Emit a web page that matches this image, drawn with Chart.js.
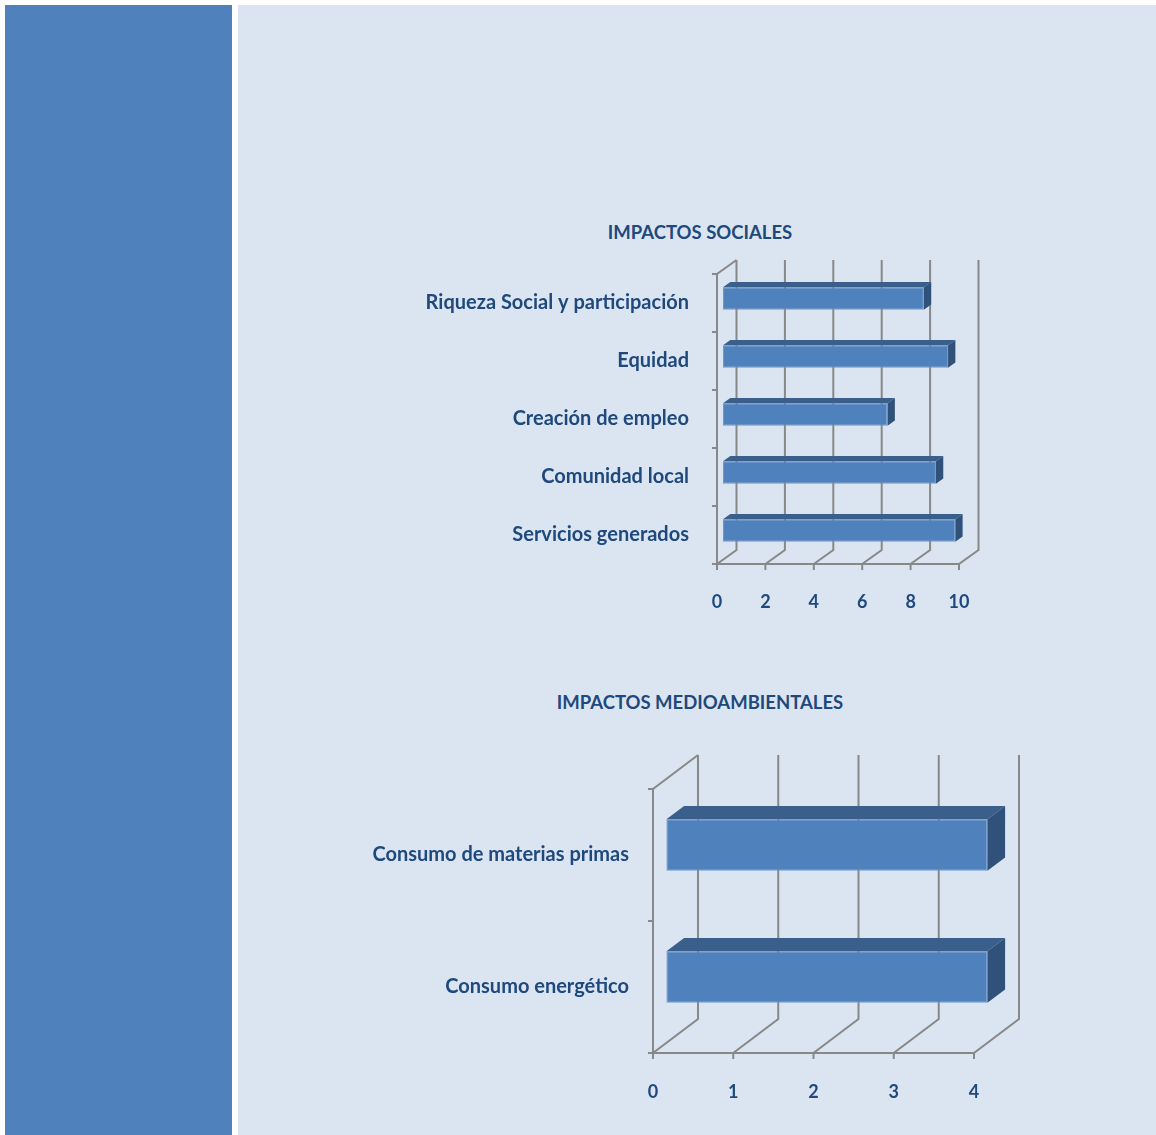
<!DOCTYPE html>
<html>
<head>
<meta charset="utf-8">
<script src="https://cdn.jsdelivr.net/npm/chart.js@4"></script>
<style>
  html, body { margin: 0; padding: 0; background: #ffffff; }
  body { width: 1156px; height: 1135px; position: relative; overflow: hidden; }
  #sidebar { position: absolute; left: 5px; top: 5px; width: 227px; height: 1130px; background: #4F81BD; }
  #panel { position: absolute; left: 238px; top: 5px; width: 918px; height: 1130px; background: #DBE5F1; }
  canvas { position: absolute; }
  #social { left: 400px; top: 210px; }
  #env { left: 340px; top: 680px; }
  .title {
    position: absolute; left: 400px; width: 600px; text-align: center;
    font: bold 18.5px Lato, 'Open Sans', sans-serif; line-height: 22px; color: #1F497D;
  }
</style>
</head>
<body>
<div id="sidebar"></div>
<div id="panel"></div>
<div class="title" style="top: 221px;">IMPACTOS SOCIALES</div>
<div class="title" style="top: 691px;">IMPACTOS MEDIOAMBIENTALES</div>
<canvas id="social" width="600" height="410"></canvas>
<canvas id="env" width="720" height="440"></canvas>
<script>
// data
const socialLabels = ['Riqueza Social y participación', 'Equidad', 'Creación de empleo', 'Comunidad local', 'Servicios generados'];
const socialValues = [8.3, 9.3, 6.8, 8.8, 9.6];
const socialTicks = { min: 0, max: 10, step: 2 };

const envLabels = ['Consumo de materias primas', 'Consumo energético'];
const envValues = [4, 4];
const envTicks = { min: 0, max: 4, step: 1 };

const TEXT = '#1F497D';
const GRID = '#888888';
const FRONT = '#4F81BD';
const TOP = '#3A5F8B';
const SIDE = '#30517A';
const FONT = "Lato, 'Open Sans', sans-serif";

// Fake 3D box: walls + floor behind the bars, then top/side faces on each bar
function box3d(wall, shift, depth) {
    return {
        id: 'box3d',
        beforeDatasetsDraw(chart) {
            const { ctx, chartArea: a, scales: { x, y } } = chart;
            ctx.save();
            ctx.strokeStyle = GRID;
            ctx.lineWidth = 2;
            ctx.beginPath();
            ctx.moveTo(a.left, a.bottom);
            ctx.lineTo(a.left, a.top);
            ctx.lineTo(a.left + wall.dx, a.top + wall.dy);
            x.ticks.forEach((t, i) => {
                const px = x.getPixelForTick(i);
                ctx.moveTo(px, a.bottom + 6);
                ctx.lineTo(px, a.bottom);
                ctx.lineTo(px + wall.dx, a.bottom + wall.dy);
                ctx.lineTo(px + wall.dx, a.top + wall.dy);
            });
            ctx.moveTo(a.left, a.bottom);
            ctx.lineTo(a.right, a.bottom);
            const n = y.ticks.length;
            for (let i = 0; i <= n; i++) {
                const py = a.top + (a.bottom - a.top) * i / n;
                ctx.moveTo(a.left - 5, py);
                ctx.lineTo(a.left, py);
            }
            ctx.stroke();
            ctx.restore();
            // bars sit a bit behind the front plane
            ctx.save();
            ctx.translate(shift.dx, shift.dy);
        },
        afterDatasetsDraw(chart) {
            const ctx = chart.ctx;
            chart.getDatasetMeta(0).data.forEach(bar => {
                const p = bar.getProps(['x', 'y', 'base', 'height'], true);
                const top = p.y - p.height / 2, bot = p.y + p.height / 2;
                ctx.fillStyle = TOP;
                ctx.beginPath();
                ctx.moveTo(p.base, top);
                ctx.lineTo(p.x, top);
                ctx.lineTo(p.x + depth.dx, top + depth.dy);
                ctx.lineTo(p.base + depth.dx, top + depth.dy);
                ctx.closePath();
                ctx.fill();
                ctx.fillStyle = SIDE;
                ctx.beginPath();
                ctx.moveTo(p.x, top);
                ctx.lineTo(p.x + depth.dx, top + depth.dy);
                ctx.lineTo(p.x + depth.dx, bot + depth.dy);
                ctx.lineTo(p.x, bot);
                ctx.closePath();
                ctx.fill();
            });
            ctx.restore();
        }
    };
}

function makeChart(id, labels, values, ticks, cfg) {
    return new Chart(document.getElementById(id), {
        type: 'bar',
        data: {
            labels: labels,
            datasets: [{
                data: values,
                backgroundColor: FRONT,
                borderColor: '#6F97CA',
                borderWidth: 1,
                borderSkipped: false,
                categoryPercentage: 1,
                barPercentage: 0.39,
                clip: false
            }]
        },
        options: {
            indexAxis: 'y',
            responsive: false,
            animation: false,
            layout: { padding: { left: 0, right: cfg.right, top: cfg.top, bottom: 0 } },
            scales: {
                x: {
                    min: ticks.min,
                    max: ticks.max,
                    ticks: { stepSize: ticks.step, color: TEXT, font: { family: FONT, size: 18, weight: 'bold' }, padding: cfg.xPad },
                    grid: { display: false, drawTicks: false },
                    border: { display: false },
                    afterFit(s) { s.height = cfg.xHeight; }
                },
                y: {
                    ticks: { color: TEXT, font: { family: FONT, size: 20, weight: 'bold' }, padding: cfg.yPad },
                    grid: { display: false, drawTicks: false },
                    border: { display: false },
                    afterFit(s) { s.width = cfg.yWidth; }
                }
            },
            plugins: {
                legend: { display: false },
                tooltip: { enabled: false },
                title: { display: false }
            }
        },
        plugins: [box3d(cfg.wall, cfg.shift, cfg.depth)]
    });
}

makeChart('social', socialLabels, socialValues, socialTicks, {
    top: 64, right: 41, yWidth: 317, yPad: 28, xHeight: 56, xPad: 27,
    wall: { dx: 19.5, dy: -14 }, shift: { dx: 6, dy: -4.5 }, depth: { dx: 7.3, dy: -5.3 }
});

makeChart('env', envLabels, envValues, envTicks, {
    top: 109, right: 86, yWidth: 313, yPad: 24, xHeight: 67, xPad: 28,
    wall: { dx: 45, dy: -34 }, shift: { dx: 13.4, dy: -10 }, depth: { dx: 17.7, dy: -13.3 }
});
</script>
</body>
</html>
